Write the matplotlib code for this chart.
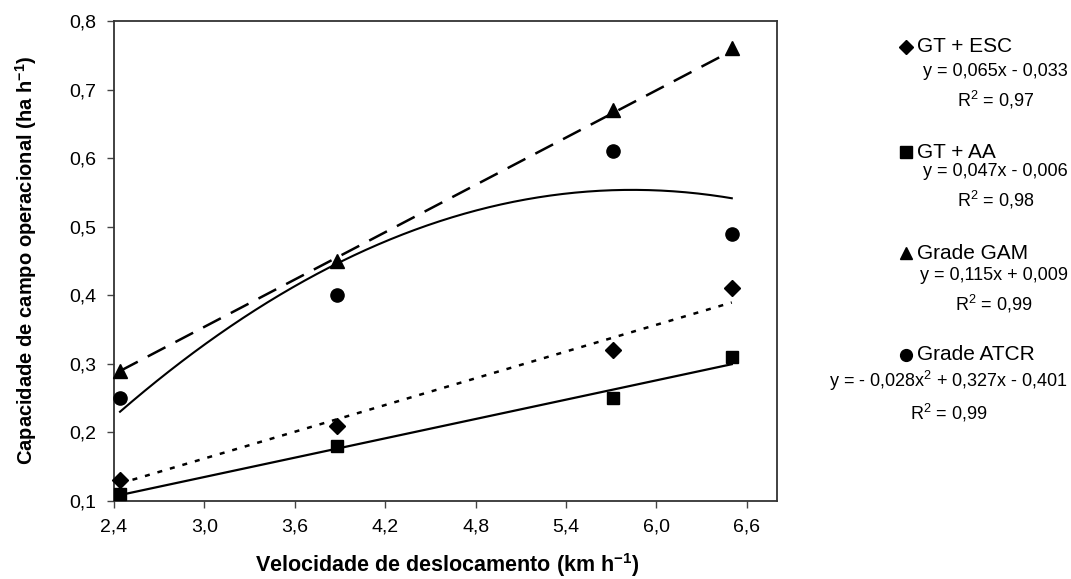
import matplotlib
matplotlib.use("Agg")
import matplotlib.pyplot as plt
import numpy as np
from matplotlib.lines import Line2D
from matplotlib.ticker import FuncFormatter, MultipleLocator

plt.rcParams['font.family'] = ['Liberation Sans', 'DejaVu Sans']
plt.rcParams['mathtext.fontset'] = 'custom'
plt.rcParams['mathtext.rm'] = 'Liberation Sans'
plt.rcParams['mathtext.it'] = 'Liberation Sans'
plt.rcParams['mathtext.bf'] = 'Liberation Sans:bold'

# velocidade de deslocamento (km/h)
velocidade = [2.44, 3.88, 5.71, 6.50]

# capacidade de campo operacional (ha/h)
gt_esc = [0.13, 0.21, 0.32, 0.41]
gt_aa = [0.11, 0.18, 0.25, 0.31]
grade_gam = [0.29, 0.45, 0.67, 0.76]
grade_atcr = [0.25, 0.40, 0.61, 0.49]

# coeficientes das regressoes (maior grau primeiro)
coef_esc = [0.065, -0.033]
coef_aa = [0.047, -0.006]
coef_gam = [0.115, 0.009]
coef_atcr = [-0.028, 0.327, -0.401]

nomes = ["GT + ESC", "GT + AA", "Grade GAM", "Grade ATCR"]
equacoes = [
    "y = 0,065x - 0,033\nR$^2$ = 0,97",
    "y = 0,047x - 0,006\nR$^2$ = 0,98",
    "y = 0,115x + 0,009\nR$^2$ = 0,99",
    "y = - 0,028x$^2$ + 0,327x - 0,401\nR$^2$ = 0,99",
]
marcadores = ["D", "s", "^", "o"]
tamanhos = [8, 9, 10, 9.5]

W, H = 1071, 579
fig = plt.figure(figsize=(W / 100, H / 100), dpi=100)
ax = fig.add_axes([114 / W, 1 - 501 / H, (777 - 114) / W, (501 - 21) / H])

xs = np.linspace(min(velocidade), max(velocidade), 200)

series = [gt_esc, gt_aa, grade_gam, grade_atcr]
coefs = [coef_esc, coef_aa, coef_gam, coef_atcr]
estilos = [(0, (2, 3.2)), '-', (0, (8, 4.5)), '-']
larguras = [1.8, 1.6, 1.8, 1.5]

for y, c, ls, lw, m, ms in zip(series, coefs, estilos, larguras, marcadores, tamanhos):
    ax.plot(xs, np.polyval(c, xs), color='black', linestyle=ls, linewidth=lw)
    ax.plot(velocidade, y, linestyle='none', marker=m, markersize=ms,
            color='black', clip_on=False, zorder=3)

ax.set_xlim(2.4, 6.8)
ax.set_ylim(0.1, 0.8)
ax.yaxis.set_major_locator(MultipleLocator(0.1))
ax.set_xticks(np.arange(2.4, 6.61, 0.6))
virgula = FuncFormatter(lambda v, p: f"{v:.1f}".replace('.', ','))
ax.xaxis.set_major_formatter(virgula)
ax.yaxis.set_major_formatter(virgula)
ax.tick_params(direction='out', length=5, width=1, labelsize=14,
               color='#444444')
ax.tick_params(axis='x', pad=7.5)
ax.tick_params(axis='y', pad=8)

for s in ax.spines.values():
    s.set_linewidth(1.3)
    s.set_color('#333333')

fig.text(447 / W, 1 - 572 / H, "Velocidade de deslocamento (km h$^{\\mathbf{-1}}$)",
         ha='center', va='baseline', fontsize=15.5, fontweight='bold')
fig.text(26 / W, 1 - 260 / H, "Capacidade de campo operacional (ha h$^{\\mathbf{-1}}$)",
         ha='center', va='center', rotation=90, fontsize=14.5, fontweight='bold')

# legenda com as equacoes ao lado do grafico
y_nome = [47, 152, 253, 355]
y_eq = [87, 187, 291, 396]
for nome, eq, m, ms, yn, ye in zip(nomes, equacoes, marcadores, tamanhos, y_nome, y_eq):
    fig.add_artist(Line2D([906 / W], [1 - yn / H], marker=m, markersize=ms - 1,
                          color='black', linestyle='none'))
    fig.text(917 / W, 1 - yn / H, nome, ha='left', va='center', fontsize=15)
    fig.text(1068 / W, 1 - ye / H, eq, ha='right', va='center',
             multialignment='center', fontsize=13, linespacing=1.5)

fig.savefig("out.png", dpi=100)
